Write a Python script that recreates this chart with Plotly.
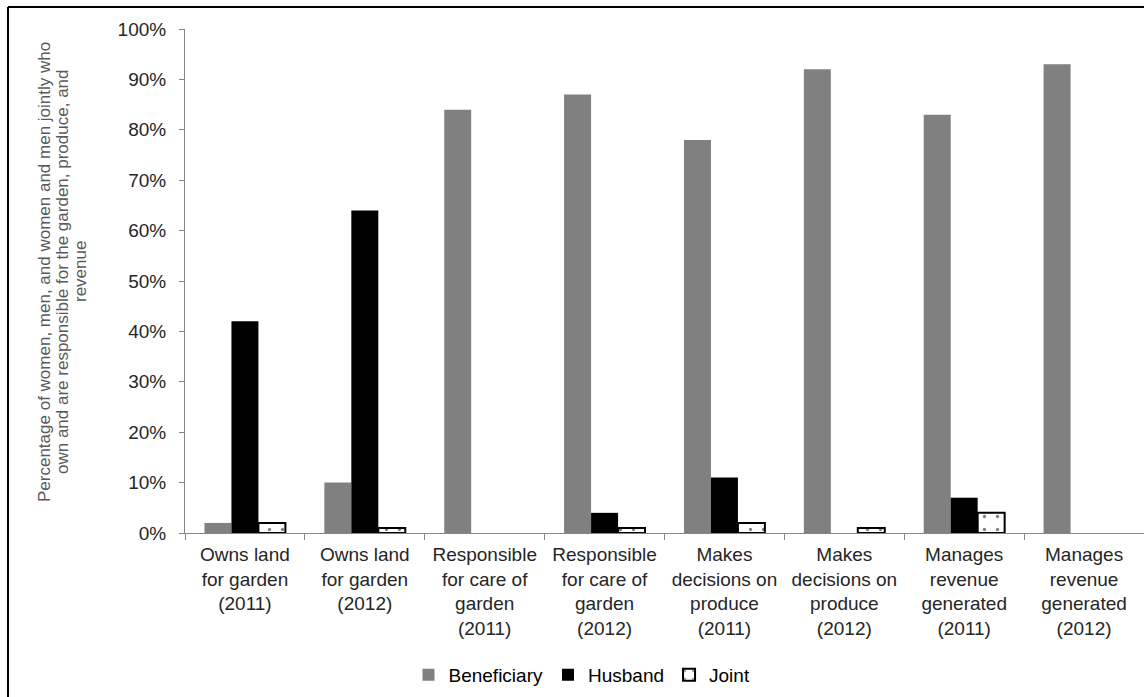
import plotly.graph_objects as go

categories = [
    "Owns land<br>for garden<br>(2011)",
    "Owns land<br>for garden<br>(2012)",
    "Responsible<br>for care of<br>garden<br>(2011)",
    "Responsible<br>for care of<br>garden<br>(2012)",
    "Makes<br>decisions on<br>produce<br>(2011)",
    "Makes<br>decisions on<br>produce<br>(2012)",
    "Manages<br>revenue<br>generated<br>(2011)",
    "Manages<br>revenue<br>generated<br>(2012)",
]
beneficiary = [2, 10, 84, 87, 78, 92, 83, 93]
husband = [42, 64, 0, 4, 11, 0, 7, 0]
joint = [2, 1, 0, 1, 2, 1, 4, 0]

y_title_lines = [
    "Percentage of women, men, and women and men jointly who",
    "own and are responsible for the garden, produce, and",
    "revenue",
]

font = "Liberation Sans, Arial, sans-serif"
W, H = 1144, 697
L, R, T, B = 185, 0, 29, 164
PW, PH = W - L - R, H - T - B


def px_x(x):
    return (x - L) / PW


def px_y(y):
    return (H - B - y) / PH


fig = go.Figure()
fig.add_trace(go.Bar(name="Beneficiary", x=categories, y=[v / 100 for v in beneficiary],
                     marker=dict(color="#808080", line=dict(width=0))))
fig.add_trace(go.Bar(name="Husband", x=categories, y=[v / 100 for v in husband],
                     marker=dict(color="#000000", line=dict(width=0))))
fig.add_trace(go.Bar(name="Joint", x=categories, y=[v / 100 for v in joint],
                     marker=dict(color="#ffffff",
                                 line=dict(color="#000000", width=[2 if v > 0 else 0 for v in joint]),
                                 pattern=dict(shape=".", fgcolor="#000000", bgcolor="#ffffff",
                                              size=13, solidity=0.05))))

annotations = []
for i, line in enumerate(y_title_lines):
    annotations.append(dict(
        text=line, xref="paper", yref="paper", x=px_x(44 + 18 * i), y=px_y(272),
        xanchor="center", yanchor="middle", textangle=-90, showarrow=False,
        font=dict(family=font, size=17, color="#595959"),
    ))

fig.update_layout(
    width=W, height=H,
    barmode="group", bargap=0.325, bargroupgap=0,
    plot_bgcolor="white", paper_bgcolor="white",
    margin=dict(l=L, r=R, t=T, b=B),
    font=dict(family=font, size=19, color="#262626"),
    showlegend=True,
    legend=dict(orientation="h", x=px_x(582), xanchor="center", y=px_y(675), yanchor="middle",
                font=dict(size=19, color="#000000"), itemwidth=30, traceorder="normal"),
    annotations=annotations,
    shapes=[
        dict(type="line", xref="paper", yref="paper", x0=px_x(8), x1=1.01,
             y0=px_y(7), y1=px_y(7), line=dict(color="black", width=2)),
        dict(type="line", xref="paper", yref="paper", x0=px_x(8), x1=px_x(8),
             y0=px_y(7), y1=px_y(710), line=dict(color="black", width=2)),
    ],
)
fig.update_yaxes(
    range=[0, 1], tickformat=".0%", dtick=0.1, showgrid=False, zeroline=False,
    showline=True, linecolor="#868686", linewidth=1,
    ticks="outside", ticklen=5, tickcolor="#868686", ticklabelstandoff=9,
    tickfont=dict(size=19, color="#262626"),
)
fig.update_xaxes(
    showline=True, linecolor="#868686", linewidth=1, showgrid=False,
    ticks="outside", ticklen=6, tickcolor="#868686", tickson="boundaries",
    ticklabelstandoff=4,
    tickfont=dict(size=19, color="#262626"), tickangle=0,
)

fig.write_html("out.html")
